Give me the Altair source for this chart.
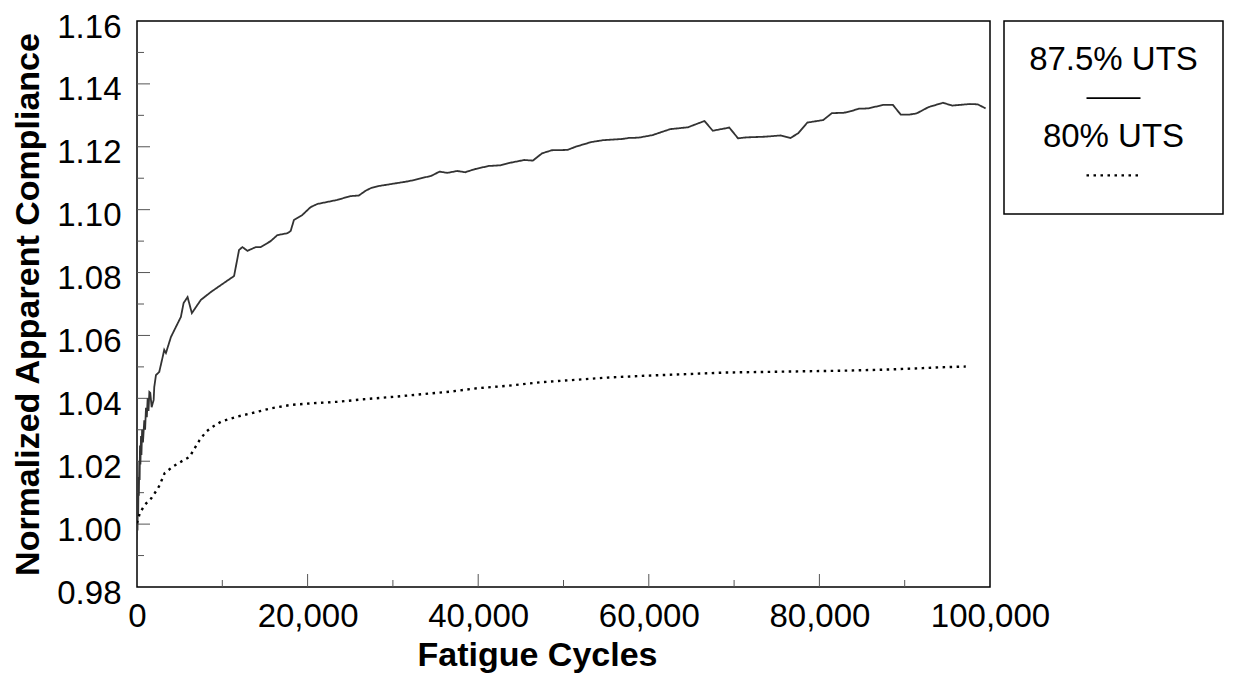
import altair as alt
import pandas as pd

FONT = "Liberation Sans"

series_names = ["87.5% UTS", "80% UTS"]

cycles_875 = [0, 30, 60, 100, 140, 180, 220, 270, 310, 350, 400, 470, 520, 600, 700,
              854, 950, 1053, 1150, 1251, 1350, 1450, 1556, 1719, 1953, 2023, 2222,
              2608, 3006, 3193, 3392, 3977, 4561, 5146, 5462, 5930, 6433, 7485, 8655,
              9825, 11380, 11965, 12363, 12948, 13918, 14503, 15673, 16456, 17626,
              18012, 18398, 19380, 20351, 21135, 23474, 25000, 26000, 26800, 27368,
              28293, 31532, 32456, 34538, 35462, 36374, 37544, 38468, 39614, 41240,
              42620, 43544, 45404, 46410, 47474, 48632, 50480, 51404, 53252, 54643,
              56959, 57649, 58807, 60421, 62503, 64585, 66526, 67497, 69439, 70456,
              71520, 73602, 75450, 76608, 77520, 78585, 80444, 81462, 82842, 83673,
              84597, 85708, 87462, 88620, 89544, 90468, 91392, 92784, 94491, 95556,
              97637, 98561, 99485]
comp_875 = [0.995, 1.004, 0.998, 1.010, 1.003, 1.015, 1.009, 1.020, 1.014, 1.025, 1.019,
            1.028, 1.022, 1.030, 1.026, 1.033, 1.030, 1.037, 1.034, 1.040, 1.036, 1.042,
            1.0417, 1.0372, 1.0395, 1.0436, 1.0474, 1.0484, 1.0531, 1.0554, 1.0544,
            1.0595, 1.0627, 1.0659, 1.0703, 1.0722, 1.0671, 1.0713, 1.0738, 1.0760,
            1.0789, 1.0872, 1.0881, 1.0869, 1.0881, 1.0881, 1.0900, 1.0919, 1.0925,
            1.0932, 1.0967, 1.0983, 1.1008, 1.1018, 1.1031, 1.1043, 1.1045, 1.1060,
            1.1068, 1.1075, 1.1089, 1.1094, 1.1108, 1.1121, 1.1117, 1.1123, 1.1119,
            1.1129, 1.1139, 1.1141, 1.1148, 1.1158, 1.1156, 1.1179, 1.1189, 1.1190,
            1.1200, 1.1215, 1.1221, 1.1225, 1.1228, 1.1229, 1.1237, 1.1256, 1.1262,
            1.1282, 1.1251, 1.1261, 1.1227, 1.1230, 1.1232, 1.1236, 1.1228, 1.1243,
            1.1277, 1.1285, 1.1307, 1.1308, 1.1313, 1.1321, 1.1322, 1.1333, 1.1333,
            1.1302, 1.1302, 1.1306, 1.1326, 1.1340, 1.1331, 1.1336, 1.1335, 1.1322]

cycles_80 = [0, 316, 900, 1672, 2456, 2654, 3240, 4211, 5380, 6164, 6749, 7334, 8105,
             8889, 9860, 11778, 13333, 15673, 18012, 20351, 23474, 26585, 30140, 33380,
             36608, 39848, 43544, 47252, 50947, 55111, 59731, 64351, 68971, 73602,
             78222, 82842, 87462, 92082, 94386, 97158]
comp_80 = [1.0003, 1.0034, 1.0061, 1.0082, 1.0114, 1.0124, 1.0162, 1.0183, 1.0202,
           1.0214, 1.0241, 1.0267, 1.0294, 1.0310, 1.0326, 1.0342, 1.0352, 1.0368,
           1.0379, 1.0384, 1.0389, 1.0397, 1.0405, 1.0413, 1.0421, 1.0432, 1.0440,
           1.0451, 1.0458, 1.0466, 1.0472, 1.0477, 1.0482, 1.0484, 1.0486, 1.0488,
           1.0491, 1.0496, 1.0499, 1.0501]

x_labels = [0, 20000, 40000, 60000, 80000, 100000]
y_labels = [0.98, 1.00, 1.02, 1.04, 1.06, 1.08, 1.10, 1.12, 1.14, 1.16]
x_major_ticks = [20000, 40000, 60000, 80000]
x_minor_ticks = [10000, 30000, 50000, 70000, 90000]
y_major_ticks = [1.00, 1.02, 1.04, 1.06, 1.08, 1.10, 1.12, 1.14]
y_minor_ticks = [0.99, 1.01, 1.03, 1.05, 1.07, 1.09, 1.11, 1.13, 1.15]

legend_slots = ["t1", "l1", "t2", "l2"]

W, H = 853, 566
LW, LH = 219, 193

rows = []
for i, (c, v) in enumerate(zip(cycles_875, comp_875)):
    rows.append({"series": series_names[0], "cycles": c, "comp": v, "i": i})
for i, (c, v) in enumerate(zip(cycles_80, comp_80)):
    rows.append({"series": series_names[1], "cycles": c, "comp": v, "i": i})
df = pd.DataFrame(rows)

xscale = alt.Scale(domain=[0, 100000], nice=False, zero=False)
yscale = alt.Scale(domain=[0.98, 1.16], nice=False, zero=False)

dash_solid = [1, 0]
dash_dot = [2.5, 4.5]

lines = alt.Chart(df).mark_line(strokeCap="butt", clip=True).encode(
    x=alt.X("cycles:Q", scale=xscale,
            axis=alt.Axis(values=x_labels, format=",d", ticks=False, domain=False, grid=False,
                          labelFontSize=33, labelPadding=13, labelFlush=False,
                          title="Fatigue Cycles", titleFontSize=34, titleFontWeight="bold",
                          titlePadding=5, titleX=400, titleAlign="center")),
    y=alt.Y("comp:Q", scale=yscale,
            axis=alt.Axis(values=y_labels, format=".2f", ticks=False, domain=False, grid=False,
                          labelFontSize=33, labelPadding=16, labelOffset=6, labelFlush=False,
                          title="Normalized Apparent Compliance", titleFontSize=34,
                          titleFontWeight="bold", titlePadding=11)),
    color=alt.Color("series:N", scale=alt.Scale(domain=series_names, range=["#333333", "#000000"]),
                    legend=None),
    strokeDash=alt.StrokeDash("series:N", scale=alt.Scale(domain=series_names, range=[dash_solid, dash_dot]),
                              legend=None),
    strokeWidth=alt.StrokeWidth("series:N", scale=alt.Scale(domain=series_names, range=[1.8, 2.4]),
                                legend=None),
    order="i:Q",
)

xmaj = alt.Chart(pd.DataFrame({"v": x_major_ticks})).mark_rule(color="#555555", strokeWidth=1).encode(
    x=alt.X("v:Q", scale=xscale), y=alt.value(H), y2=alt.value(H - 13))
xmin = alt.Chart(pd.DataFrame({"v": x_minor_ticks})).mark_rule(color="#555555", strokeWidth=1).encode(
    x=alt.X("v:Q", scale=xscale), y=alt.value(H), y2=alt.value(H - 7))
ymaj = alt.Chart(pd.DataFrame({"v": y_major_ticks})).mark_rule(color="#555555", strokeWidth=1).encode(
    y=alt.Y("v:Q", scale=yscale), x=alt.value(0), x2=alt.value(13))
ymin = alt.Chart(pd.DataFrame({"v": y_minor_ticks})).mark_rule(color="#555555", strokeWidth=1).encode(
    y=alt.Y("v:Q", scale=yscale), x=alt.value(0), x2=alt.value(7))

main = alt.layer(xmaj, xmin, ymaj, ymin, lines).properties(width=W, height=H)

leg_df = pd.DataFrame({
    "slot": legend_slots,
    "kind": ["text", "line", "text", "line"],
    "series": [series_names[0], series_names[0], series_names[1], series_names[1]],
})
leg_y = alt.Y("slot:N", scale=alt.Scale(type="point", domain=legend_slots, padding=1.08), axis=None)

leg_text = alt.Chart(leg_df).transform_filter(alt.datum.kind == "text").mark_text(
    fontSize=33, font=FONT, baseline="middle", align="center", color="#000000"
).encode(y=leg_y, x=alt.value(LW / 2), text="series:N")

leg_line = alt.Chart(leg_df).transform_filter(alt.datum.kind == "line").mark_rule(
    strokeCap="butt", color="#000000"
).encode(
    y=leg_y, x=alt.value(LW / 2 - 27), x2=alt.value(LW / 2 + 27),
    strokeDash=alt.StrokeDash("series:N", scale=alt.Scale(domain=series_names, range=[dash_solid, dash_dot]),
                              legend=None),
    strokeWidth=alt.StrokeWidth("series:N", scale=alt.Scale(domain=series_names, range=[1.5, 2.4]),
                                legend=None),
)

legend = alt.layer(leg_text, leg_line).properties(width=LW, height=LH)

chart = alt.hconcat(main, legend, spacing=14, bounds="flush").properties(
    padding={"left": 3, "top": 2, "right": 0, "bottom": 0}
).configure(font=FONT).configure_view(
    stroke="#000000", strokeWidth=1.5
).configure_axis(labelFont=FONT, titleFont=FONT, labelColor="#000000", titleColor="#000000")

chart.save("out.html", embed_options={"renderer": "svg", "actions": False})
